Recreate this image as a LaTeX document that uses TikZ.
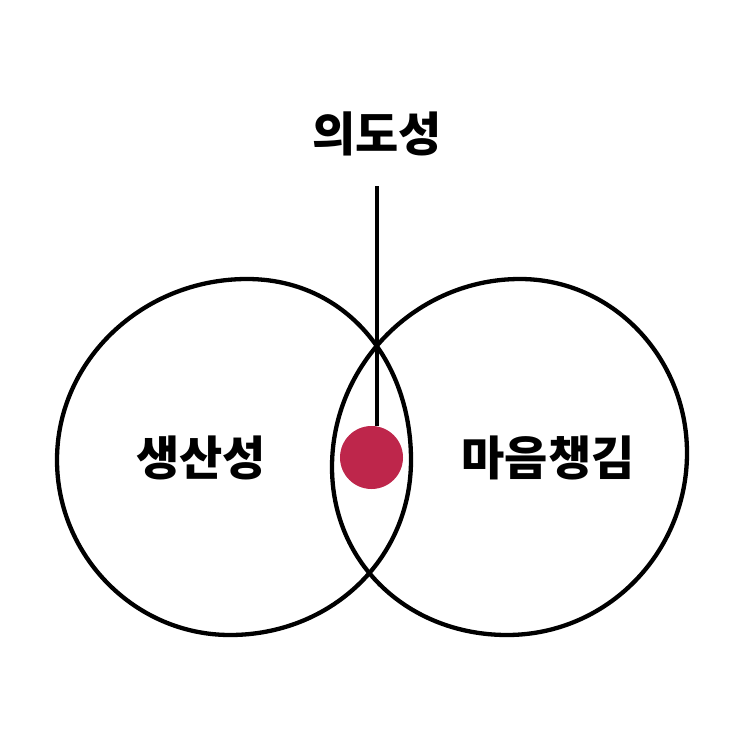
\documentclass[tikz,border=0pt]{standalone}
\usepackage{fontspec}
\usepackage{tikz}
\usetikzlibrary{positioning}
\newfontfamily\krfont{Noto Sans CJK KR}
\definecolor{dotred}{RGB}{190,38,75}

\begin{document}
\begin{tikzpicture}[x=1pt, y=-1pt,
	label/.style={font=\krfont\bfseries\fontsize{47}{47}\selectfont, inner sep=0pt},
	blob/.style={line width=4.3pt},
	stem/.style={line width=4pt}]
\useasboundingbox (0,0) rectangle (743,743);
\draw[blob] (247,279) .. controls (345,279) and (411,360) .. (411,460)
	.. controls (411,560) and (330,635) .. (230,635)
	.. controls (135,635) and (57,556) .. (57,460)
	.. controls (57,360) and (143,279) .. (247,279) -- cycle;
\draw[blob] (520,279) .. controls (612,279) and (687,357) .. (687,453)
	.. controls (687,553) and (607,635) .. (507,635)
	.. controls (410,635) and (332,565) .. (332,467)
	.. controls (332,364) and (417,279) .. (520,279) -- cycle;
\node (intent) [label] at (377,134) {의도성};
\node (prod) [label] at (201,458) {생산성};
\node (mind) [label] at (548,458) {마음챙김};
\node (dot) [circle, fill=dotred, minimum size=63pt, inner sep=0pt] at (371.5,457.5) {};
\coordinate (stemtop) at ([yshift=-30pt]intent.south);
\draw[stem] (stemtop) -- (stemtop |- dot.north);
\end{tikzpicture}
\end{document}
